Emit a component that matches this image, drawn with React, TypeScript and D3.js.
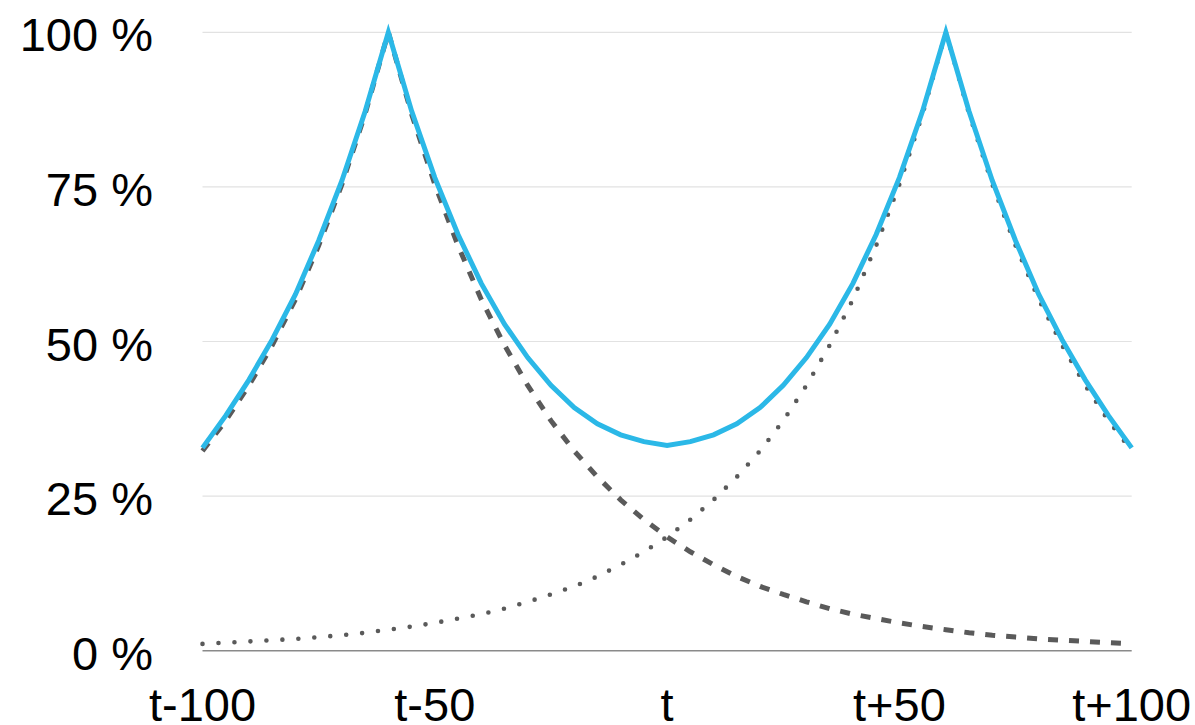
import React from "react";
import * as d3 from "d3";

// x positions: t-100 ... t+100 in steps of 5
const xSteps: number[] = [
  -100, -95, -90, -85, -80, -75, -70, -65, -60, -55, -50, -45, -40, -35, -30, -25, -20, -15, -10, -5,
  0, 5, 10, 15, 20, 25, 30, 35, 40, 45, 50, 55, 60, 65, 70, 75, 80, 85, 90, 95, 100,
];

// dashed series (peak at t-60), percent
const dashedValues: number[] = [
  32.3, 37.2, 42.9, 49.4, 56.8, 65.5, 75.4, 86.8, 100, 86.8, 75.4, 65.5, 56.8, 49.4, 42.9, 37.2,
  32.3, 28.1, 24.4, 21.2, 18.4, 16.0, 13.9, 12.0, 10.4, 9.1, 7.9, 6.8, 5.9, 5.2, 4.5, 3.9, 3.4,
  2.9, 2.5, 2.2, 1.9, 1.7, 1.5, 1.3, 1.1,
];

// dotted series (peak at t+60), percent
const dottedValues: number[] = [
  1.1, 1.3, 1.5, 1.7, 1.9, 2.2, 2.5, 2.9, 3.4, 3.9, 4.5, 5.2, 5.9, 6.8, 7.9, 9.1, 10.4, 12.0,
  13.9, 16.0, 18.4, 21.2, 24.4, 28.1, 32.3, 37.2, 42.9, 49.4, 56.8, 65.5, 75.4, 86.8, 100, 86.8,
  75.4, 65.5, 56.8, 49.4, 42.9, 37.2, 32.3,
];

// combined (blue) series, percent
const combinedValues: number[] = [
  32.8, 38.0, 43.8, 50.3, 57.6, 66.3, 76.0, 87.2, 100, 87.3, 76.5, 67.3, 59.4, 52.8, 47.4, 42.9,
  39.3, 36.7, 34.9, 33.8, 33.2, 33.8, 34.9, 36.7, 39.3, 42.9, 47.4, 52.8, 59.4, 67.3, 76.5, 87.3,
  100, 87.2, 76.0, 66.3, 57.6, 50.3, 43.8, 38.0, 32.8,
];

const yTicks: number[] = [0, 25, 50, 75, 100];
const yTickLabels: string[] = ["0 %", "25 %", "50 %", "75 %", "100 %"];
const xTicks: number[] = [-100, -50, 0, 50, 100];
const xTickLabels: string[] = ["t-100", "t-50", "t", "t+50", "t+100"];

const W = 1195;
const H = 725;
const left = 202.5;
const right = 1131.7;
const top = 32.3;
const bottom = 650.7;
const FONT = "'Liberation Sans', Arial, Helvetica, sans-serif";

export default function App() {
  const x = d3.scaleLinear().domain([-100, 100]).range([left, right]);
  const y = d3.scaleLinear().domain([0, 100]).range([bottom, top]);

  const mk = (vals: number[]) =>
    d3
      .line<number>()
      .x((_, i) => x(xSteps[i]))
      .y((v) => y(v))(vals) as string;

  return (
    <svg
      width={W}
      height={H}
      style={{ position: "absolute", left: 0, top: 0, background: "#fff" }}
      fontFamily={FONT}
    >
      {yTicks.map((t) =>
        t === 0 ? null : (
          <line key={t} x1={left} x2={right} y1={y(t)} y2={y(t)} stroke="#e2e2e2" strokeWidth={1.2} />
        )
      )}
      <line x1={left} x2={right} y1={y(0)} y2={y(0)} stroke="#8a8a8a" strokeWidth={1.5} />

      {yTicks.map((t, i) => (
        <text key={t} x={153} y={y(t) + 19} textAnchor="end" fontSize={47} fill="#000">
          {yTickLabels[i]}
        </text>
      ))}
      {xTicks.map((t, i) => (
        <text key={t} x={x(t)} y={721} textAnchor="middle" fontSize={47} fill="#000">
          {xTickLabels[i]}
        </text>
      ))}

      <path
        d={mk(dashedValues)}
        fill="none"
        stroke="#5a5a5a"
        strokeWidth={5}
        strokeDasharray="10 11"
      />
      <path
        d={mk(dottedValues)}
        fill="none"
        stroke="#5a5a5a"
        strokeWidth={4.6}
        strokeLinecap="round"
        strokeDasharray="0 16"
      />
      <path
        d={mk(combinedValues)}
        fill="none"
        stroke="#2bb8e7"
        strokeWidth={5}
        strokeLinejoin="miter"
      />
    </svg>
  );
}
